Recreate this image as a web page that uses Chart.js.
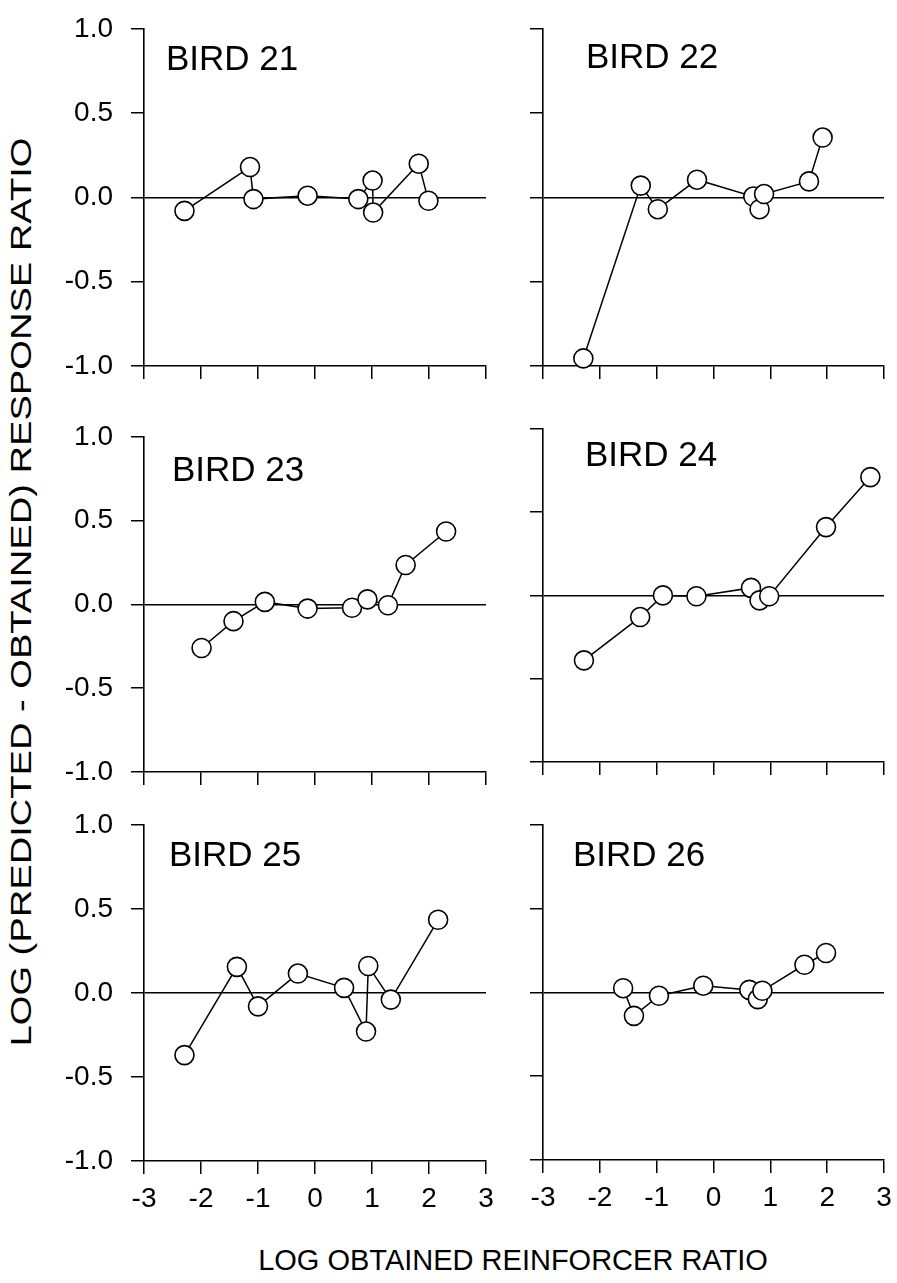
<!DOCTYPE html>
<html>
<head>
<meta charset="utf-8">
<script src="https://cdn.jsdelivr.net/npm/chart.js@4.4.1/dist/chart.umd.min.js"></script>
<style>
  body { margin: 0; background: #fff; }
  #page { position: relative; width: 897px; height: 1283px; overflow: hidden; background: #fff; }
  #page canvas { position: absolute; }
  .ttl { position: absolute; font-family: "Liberation Sans", Arial, sans-serif; color: #000; white-space: nowrap; }
</style>
</head>
<body>
<div id="page">
  <div class="ttl" id="ytitle" style="left:21px; top:592px; font-size:30px; transform: translate(-50%,-50%) rotate(-90deg) scaleX(1.27);">LOG (PREDICTED - OBTAINED) RESPONSE RATIO</div>
  <div class="ttl" id="xtitle" style="left:513px; top:1246px; font-size:29px; line-height:29px; transform: translateX(-50%);">LOG OBTAINED REINFORCER RATIO</div>
</div>
<script>
// values
var xTicks = [-3, -2, -1, 0, 1, 2, 3];
var yTicks = [-1.0, -0.5, 0.0, 0.5, 1.0];

var bird21X = [-2.29, -1.14, -1.08, -0.13, 0.76, 1.01, 1.02, 1.82, 1.99];
var bird21Y = [-0.08, 0.18, -0.01, 0.01, -0.01, 0.10, -0.09, 0.20, -0.02];

var bird22X = [-2.29, -1.28, -0.98, -0.29, 0.70, 0.81, 0.89, 1.68, 1.92];
var bird22Y = [-0.955, 0.07, -0.07, 0.105, 0.005, -0.07, 0.02, 0.095, 0.355];

var bird23X = [-1.99, -1.43, -0.88, -0.13, 0.65, 0.92, 1.28, 1.59, 2.30];
var bird23Y = [-0.26, -0.10, 0.015, -0.025, -0.02, 0.03, -0.005, 0.235, 0.435];

var bird24X = [-2.28, -1.29, -0.89, -0.30, 0.66, 0.81, 0.98, 1.98, 2.76];
var bird24Y = [-0.39, -0.13, 0.0, -0.005, 0.045, -0.03, -0.005, 0.41, 0.71];

var bird25X = [-2.29, -1.37, -1.00, -0.30, 0.51, 0.895, 0.935, 1.33, 2.16];
var bird25Y = [-0.37, 0.155, -0.08, 0.115, 0.03, -0.23, 0.16, -0.04, 0.435];

var bird26X = [-1.59, -1.40, -0.96, -0.18, 0.63, 0.78, 0.86, 1.60, 1.98];
var bird26Y = [0.025, -0.14, -0.02, 0.04, 0.015, -0.04, 0.01, 0.165, 0.235];

var FONT = '"Liberation Sans", Arial, sans-serif';
var PADL = 110, PADT = 30, PADR = 25, PADB = 60;

// draws the "BIRD nn" label inside the plot
var birdLabel = {
  id: 'birdLabel',
  afterDatasetsDraw: function(chart, args, opts) {
    var ctx = chart.ctx, a = chart.chartArea;
    ctx.save();
    ctx.fillStyle = '#000';
    ctx.font = '35px ' + FONT;
    ctx.textBaseline = 'alphabetic';
    ctx.fillText(opts.text, a.left + opts.dx, a.top + opts.dy);
    ctx.restore();
  }
};

function makePanel(area, xs, ys, label, dx, dy, showY, showX) {
  var w = area.right - area.left, h = area.bottom - area.top;
  var cv = document.createElement('canvas');
  cv.width = w + PADL + PADR;
  cv.height = h + PADT + PADB;
  cv.style.left = (area.left - PADL) + 'px';
  cv.style.top = (area.top - PADT) + 'px';
  document.getElementById('page').appendChild(cv);

  var pts = xs.map(function(x, i) { return {x: x, y: ys[i]}; });

  return new Chart(cv.getContext('2d'), {
    type: 'scatter',
    data: {
      datasets: [{
        data: pts,
        showLine: true,
        borderColor: '#000',
        borderWidth: 1.5,
        pointRadius: 9.5,
        pointHoverRadius: 9.5,
        pointBackgroundColor: '#fff',
        pointBorderColor: '#000',
        pointBorderWidth: 1.6,
        clip: false
      }]
    },
    plugins: [birdLabel],
    options: {
      responsive: false,
      animation: false,
      devicePixelRatio: 1,
      layout: { padding: { left: 0, top: PADT, right: PADR, bottom: 0 } },
      plugins: {
        legend: { display: false },
        tooltip: { enabled: false },
        birdLabel: { text: label, dx: dx, dy: dy }
      },
      scales: {
        x: {
          type: 'linear',
          min: -3, max: 3,
          afterBuildTicks: function(s) { s.ticks = xTicks.map(function(v) { return {value: v}; }); },
          afterFit: function(s) { s.height = PADB; },
          border: { display: true, color: '#000', width: 1.6 },
          grid: { drawOnChartArea: false, tickColor: '#000', tickLength: 13, lineWidth: 1.5 },
          ticks: { color: '#000', padding: 8, font: { family: FONT, size: 28 }, maxRotation: 0,
                   callback: function(v) { return showX ? String(v) : ''; } }
        },
        y: {
          min: -1, max: 1,
          afterBuildTicks: function(s) { s.ticks = yTicks.map(function(v) { return {value: v}; }); },
          afterFit: function(s) { s.width = PADL; },
          border: { display: true, color: '#000', width: 1.6 },
          grid: {
            color: function(c) { return c.tick && c.tick.value === 0 ? '#000' : 'rgba(0,0,0,0)'; },
            tickColor: '#000', tickLength: 13, lineWidth: 1.5
          },
          ticks: { color: '#000', padding: 18, font: { family: FONT, size: 28 },
                   callback: function(v) { return showY ? v.toFixed(1) : ''; } }
        }
      }
    }
  });
}

makePanel({left: 144, right: 486, top: 24, bottom: 366}, bird21X, bird21Y, 'BIRD 21', 22, 41, true, false);
makePanel({left: 543, right: 884, top: 24, bottom: 366}, bird22X, bird22Y, 'BIRD 22', 43, 39, false, false);
makePanel({left: 144, right: 486, top: 432, bottom: 772}, bird23X, bird23Y, 'BIRD 23', 28, 44, true, false);
makePanel({left: 543, right: 884, top: 424, bottom: 762}, bird24X, bird24Y, 'BIRD 24', 42, 37, false, false);
makePanel({left: 144, right: 486, top: 820, bottom: 1161}, bird25X, bird25Y, 'BIRD 25', 25, 41, true, true);
makePanel({left: 543, right: 884, top: 820, bottom: 1160}, bird26X, bird26Y, 'BIRD 26', 30, 41, false, true);
</script>
</body>
</html>
